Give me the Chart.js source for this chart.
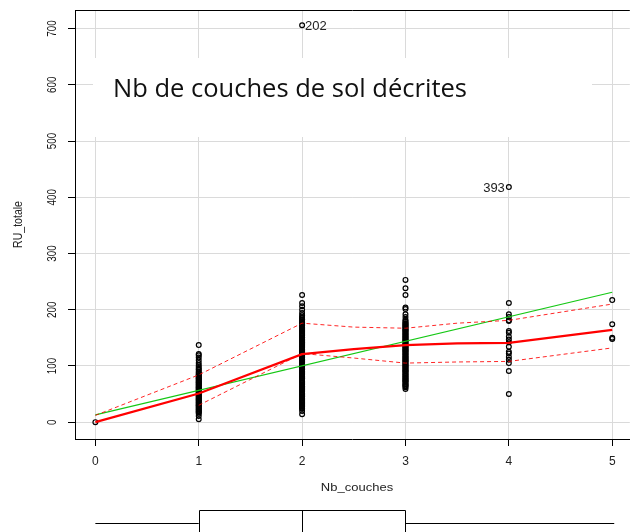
<!DOCTYPE html>
<html>
<head>
<meta charset="utf-8">
<script src="https://cdn.jsdelivr.net/npm/chart.js@4"></script>
<style>
html,body{margin:0;padding:0;background:#fff;}
#c{display:block;}
</style>
</head>
<body>
<canvas id="c" width="635" height="532"></canvas>
<script>
// ---- data ----
const xTicks = [0, 1, 2, 3, 4, 5];
const yTicks = [0, 100, 200, 300, 400, 500, 600, 700];
const xTitle = 'Nb_couches';
const yTitle = 'RU_totale';
const overlayTitle = 'Nb de couches de sol décrites';

const pts0 = [0];
const pts1 = [5, 11, 15, 17, 18, 20, 21, 23, 24, 26, 27, 29, 30, 31, 33, 34, 36, 37, 39, 40, 41, 43, 44, 46, 47, 48, 50, 51, 53, 54, 55, 57, 58, 60, 61, 62, 64, 65, 67, 68, 70, 71, 72, 74, 75, 77, 78, 79, 81, 83, 84, 86, 88, 90, 93, 95, 98, 101, 105, 110, 115, 119, 121, 137];
const pts2 = [14, 20, 24, 25, 27, 28, 30, 31, 33, 35, 36, 37, 39, 40, 42, 43, 45, 46, 48, 49, 51, 52, 54, 56, 57, 58, 60, 61, 63, 64, 66, 67, 69, 70, 72, 73, 75, 77, 78, 79, 81, 82, 84, 85, 87, 88, 90, 91, 93, 94, 96, 98, 99, 100, 102, 103, 105, 106, 108, 109, 111, 112, 114, 115, 117, 119, 120, 121, 123, 124, 126, 127, 129, 130, 132, 133, 135, 136, 138, 140, 141, 142, 144, 145, 147, 148, 150, 151, 153, 154, 156, 157, 159, 161, 162, 163, 165, 166, 168, 169, 171, 172, 174, 175, 177, 178, 180, 182, 183, 185, 187, 190, 194, 200, 206, 212, 226, 706];
const pts3 = [59, 62, 64, 65, 67, 68, 70, 72, 73, 74, 76, 77, 79, 80, 82, 83, 85, 86, 88, 90, 91, 92, 94, 95, 97, 98, 100, 101, 103, 104, 106, 108, 109, 110, 112, 113, 115, 116, 118, 119, 121, 122, 124, 126, 127, 128, 130, 131, 133, 134, 136, 137, 139, 140, 142, 144, 145, 146, 148, 149, 151, 152, 154, 155, 157, 158, 160, 162, 163, 164, 166, 167, 169, 170, 172, 173, 175, 176, 178, 180, 182, 187, 192, 201, 204, 226, 238, 253];
const pts4 = [50, 91, 105, 111, 116, 122, 125, 134, 142, 147, 152, 159, 162, 180, 181, 187, 192, 212, 418];
const pts5 = [148, 150, 174, 217];

const fitX = [0, 5];
const fitY = [13, 231];
const smoothX = [0, 1, 2, 2.5, 3, 3.5, 4, 5];
const smoothY = [0, 51, 121, 130, 137, 140, 141, 164];
const upperX = [0, 1, 2, 2.5, 3, 3.5, 4, 5];
const upperY = [12, 84, 176, 169, 167, 176, 181, 210];
const lowerX = [1, 2, 2.5, 3, 3.5, 4, 5];
const lowerY = [30, 122, 114, 105, 107, 108, 132];

const outlierX = [2, 4];
const outlierY = [706, 418];
const outlierText = ['202', '393'];
const outlierSide = ['right', 'left'];

const boxStats = [0, 1, 2, 3, 5]; // min, Q1, median, Q3, max of Nb_couches

// ---- build ----
const groups = [pts0, pts1, pts2, pts3, pts4, pts5];
const scatterData = [];
groups.forEach((arr, i) => arr.forEach(v => scatterData.push({x: xTicks[i], y: v})));
const toXY = (xs, ys) => xs.map((x, i) => ({x: x, y: ys[i]}));

const overlayPlugin = {
  id: 'overlay',
  beforeDatasetsDraw(chart) {
    const ctx = chart.ctx, a = chart.chartArea;
    ctx.save();
    ctx.fillStyle = '#fff';
    ctx.fillRect(93, 58, 499, 79);
    let fs = 26;
    ctx.font = fs + 'px "Open Sans"';
    const w = ctx.measureText(overlayTitle).width;
    fs = fs * 354 / w;
    ctx.font = fs.toFixed(2) + 'px "Open Sans"';
    ctx.fillStyle = '#111';
    ctx.textBaseline = 'alphabetic';
    ctx.textAlign = 'left';
    ctx.fillText(overlayTitle, 113, 97);
    ctx.strokeStyle = '#000';
    ctx.lineWidth = 1;
    ctx.beginPath();
    ctx.moveTo(a.left, a.top + 0.5);
    ctx.lineTo(a.right, a.top + 0.5);
    ctx.stroke();
    ctx.restore();
  },
  afterDraw(chart) {
    const ctx = chart.ctx, a = chart.chartArea;
    const xs = chart.scales.x, ys = chart.scales.y;
    ctx.save();
    ctx.fillStyle = '#111';
    ctx.font = '13px "Liberation Sans", Arial, sans-serif';
    ctx.textAlign = 'center';
    ctx.textBaseline = 'alphabetic';
    yTicks.forEach(v => {
      const py = ys.getPixelForValue(v);
      ctx.save();
      ctx.translate(55.5, py);
      ctx.rotate(-Math.PI / 2);
      ctx.scale(0.76, 1);
      ctx.fillText(String(v), 0, 0);
      ctx.restore();
    });
    ctx.fillStyle = '#222';
    ctx.save();
    ctx.translate(22, (a.top + a.bottom) / 2);
    ctx.rotate(-Math.PI / 2);
    ctx.scale(0.88, 1);
    ctx.font = '12px "Liberation Sans", Arial, sans-serif';
    ctx.fillText(yTitle, 0, 0);
    ctx.restore();
    ctx.save();
    ctx.translate(357, 491);
    ctx.scale(1, 0.85);
    ctx.font = '13px "Liberation Sans", Arial, sans-serif';
    ctx.fillText(xTitle, 0, 0);
    ctx.restore();
    ctx.font = '13px "Liberation Sans", Arial, sans-serif';
    ctx.textBaseline = 'middle';
    outlierText.forEach((t, i) => {
      const px = xs.getPixelForValue(outlierX[i]);
      const py = ys.getPixelForValue(outlierY[i]);
      if (outlierSide[i] === 'right') {
        ctx.textAlign = 'left';
        ctx.fillText(t, px + 3, py + 1);
      } else {
        ctx.textAlign = 'right';
        ctx.fillText(t, px - 4, py + 1);
      }
    });
    const bx = boxStats.map(v => xs.getPixelForValue(v));
    const top = 510.5, mid = 523.5, bot = 545;
    ctx.strokeStyle = '#000';
    ctx.lineWidth = 1;
    ctx.beginPath();
    ctx.moveTo(bx[0], mid); ctx.lineTo(bx[1], mid);
    ctx.moveTo(bx[3], mid); ctx.lineTo(bx[4] + 2, mid);
    ctx.moveTo(Math.round(bx[1]) + 0.5, bot); ctx.lineTo(Math.round(bx[1]) + 0.5, top); ctx.lineTo(Math.round(bx[3]) + 0.5, top); ctx.lineTo(Math.round(bx[3]) + 0.5, bot);
    ctx.moveTo(Math.round(bx[2]) + 0.5, top); ctx.lineTo(Math.round(bx[2]) + 0.5, bot);
    ctx.stroke();
    ctx.restore();
  }
};

new Chart(document.getElementById('c'), {
  type: 'scatter',
  data: {
    datasets: [
      {data: toXY(smoothX, smoothY), showLine: true, borderColor: '#ff0000', borderWidth: 2.2, pointRadius: 0, fill: false, order: 1},
      {data: toXY(upperX, upperY), showLine: true, borderColor: 'rgba(255,0,0,0.85)', borderWidth: 1, borderDash: [4, 3], pointRadius: 0, fill: false, order: 2},
      {data: toXY(lowerX, lowerY), showLine: true, borderColor: 'rgba(255,0,0,0.85)', borderWidth: 1, borderDash: [4, 3], pointRadius: 0, fill: false, order: 2},
      {data: toXY(fitX, fitY), showLine: true, borderColor: 'rgb(20,200,20)', borderWidth: 1.2, pointRadius: 0, fill: false, order: 3},
      {data: scatterData, showLine: false, pointRadius: 2.4, pointBorderWidth: 1.2, pointBorderColor: '#000', pointBackgroundColor: 'rgba(0,0,0,0)', order: 10}
    ]
  },
  options: {
    responsive: false,
    animation: false,
    devicePixelRatio: 1,
    layout: {padding: {top: 10, left: 0, right: 0, bottom: 0}},
    plugins: {legend: {display: false}, tooltip: {enabled: false}},
    scales: {
      x: {
        type: 'linear', min: -0.197, max: 5.17,
        afterBuildTicks(s) { s.ticks = xTicks.map(v => ({value: v})); },
        afterFit(s) { s.height = 93; },
        ticks: {padding: 8, color: '#222', font: {size: 12, family: '"Liberation Sans", Arial, sans-serif'}, maxRotation: 0, callback: v => String(v)},
        grid: {color: '#dadada', lineWidth: 1, drawTicks: true, tickLength: 7, tickColor: '#000'},
        border: {display: true, color: '#000', width: 1}
      },
      y: {
        type: 'linear', min: -30, max: 733,
        afterBuildTicks(s) { s.ticks = yTicks.map(v => ({value: v})); },
        afterFit(s) { s.width = 75; },
        ticks: {display: false},
        grid: {color: '#dadada', lineWidth: 1, drawTicks: true, tickLength: 7, tickColor: '#000'},
        border: {display: true, color: '#000', width: 1}
      }
    }
  },
  plugins: [overlayPlugin]
});
</script>
</body>
</html>
